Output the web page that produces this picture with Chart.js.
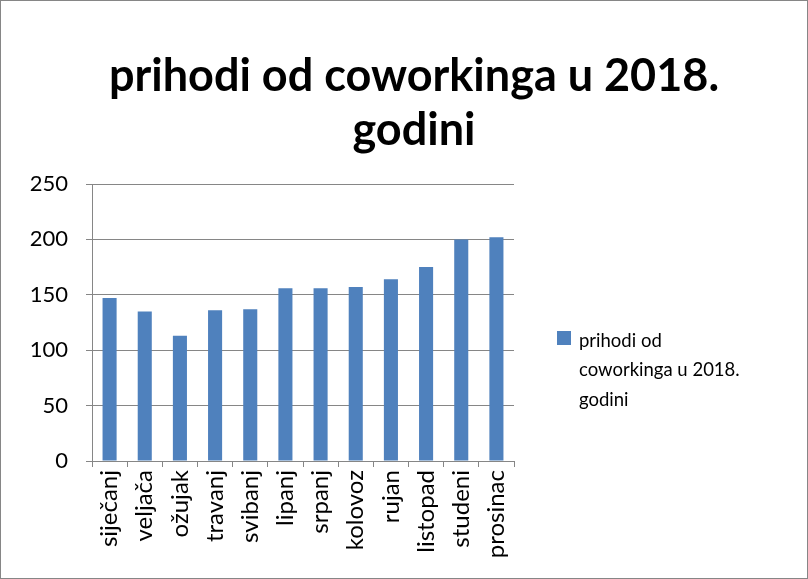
<!DOCTYPE html>
<html>
<head>
<meta charset="utf-8">
<script src="https://cdn.jsdelivr.net/npm/chart.js@4.4.0/dist/chart.umd.min.js"></script>
<style>
  html, body { margin: 0; padding: 0; background: #fff; }
  #wrap { width: 808px; height: 579px; position: relative; }
</style>
</head>
<body>
<div id="wrap"><canvas id="prihodiChart"></canvas></div>
<script>
// podaci s grafikona
const mjeseci = ['siječanj', 'veljača', 'ožujak', 'travanj', 'svibanj', 'lipanj',
                 'srpanj', 'kolovoz', 'rujan', 'listopad', 'studeni', 'prosinac'];
const prihodi = [147, 135, 113, 136, 137, 156, 156, 157, 164, 175, 200, 202];
const nazivSerije = 'prihodi od coworkinga u 2018. godini';
const legendaRedovi = ['prihodi od', 'coworkinga u 2018.', 'godini'];
const naslovRedovi = ['prihodi od coworkinga u 2018.', 'godini'];

const FONT = 'Lato, "Open Sans", sans-serif';
const boja = '#4F81BD';

// okvir, naslov (centriran na cijelu sliku) i legenda desno
const okvirPlugin = {
    id: 'okvir',
    afterDraw(chart) {
        const ctx = chart.ctx;
        ctx.save();
        ctx.strokeStyle = '#868686';
        ctx.lineWidth = 1;
        ctx.strokeRect(0.5, 0.5, chart.width - 1, chart.height - 1);

        // naslov
        ctx.fillStyle = '#000';
        ctx.textAlign = 'center';
        ctx.textBaseline = 'alphabetic';
        ctx.font = 'bold 45px ' + FONT;
        naslovRedovi.forEach((red, i) => {
            ctx.fillText(red, 414, 91 + i * 54);
        });

        // legenda
        const x = chart.chartArea.right + 43;
        const y = 331;
        ctx.textAlign = 'left';
        ctx.fillStyle = chart.data.datasets[0].backgroundColor;
        ctx.fillRect(x, y, 14, 14);
        ctx.fillStyle = '#000';
        ctx.font = '18.5px ' + FONT;
        ctx.textBaseline = 'middle';
        legendaRedovi.forEach((red, i) => {
            ctx.fillText(red, x + 22, y + 10 + i * 29.5);
        });
        ctx.restore();
    }
};

const ctx = document.getElementById('prihodiChart').getContext('2d');
new Chart(ctx, {
    type: 'bar',
    data: {
        labels: mjeseci,
        datasets: [{
            label: nazivSerije,
            data: prihodi,
            backgroundColor: boja,
            borderWidth: 0,
            categoryPercentage: 1,
            barPercentage: 0.4
        }]
    },
    options: {
        responsive: true,
        maintainAspectRatio: false,
        animation: false,
        layout: {
            padding: { left: 0, right: 294, top: 184, bottom: 0 }
        },
        plugins: {
            legend: { display: false },
            tooltip: { enabled: false },
            title: { display: false }
        },
        scales: {
            x: {
                grid: {
                    offset: true,
                    drawOnChartArea: false,
                    drawTicks: true,
                    tickLength: 6,
                    color: '#868686'
                },
                border: { color: '#868686' },
                ticks: {
                    color: '#000',
                    font: { family: FONT, size: 24 },
                    maxRotation: 90,
                    minRotation: 90,
                    autoSkip: false,
                    padding: 3
                },
                afterFit(scale) { scale.height = 118; }
            },
            y: {
                min: 0,
                max: 250,
                ticks: {
                    stepSize: 50,
                    color: '#000',
                    font: { family: FONT, size: 22 },
                    padding: 18
                },
                grid: {
                    color: '#868686',
                    tickLength: 6
                },
                border: { color: '#868686' },
                afterFit(scale) { scale.width = 92; }
            }
        }
    },
    plugins: [okvirPlugin]
});
</script>
</body>
</html>
